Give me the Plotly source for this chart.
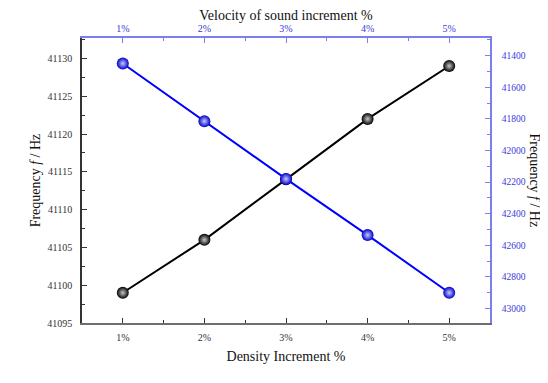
import plotly.graph_objects as go

x_pct = [1, 2, 3, 4, 5]
x_labels = ["1%", "2%", "3%", "4%", "5%"]
density_freq = [41099, 41106, 41114, 41122, 41129]
velocity_freq = [41450, 41815, 42180, 42535, 42900]

left_ticks = [41095, 41100, 41105, 41110, 41115, 41120, 41125, 41130]
right_ticks = [41400, 41600, 41800, 42000, 42200, 42400, 42600, 42800, 43000]

FONT = "Liberation Serif"
BLUE_AX = "#7d7df0"
BLUE_TXT = "#3a3ad8"
GRAY_AX = "#6e6e6e"

fig = go.Figure()
fig.add_trace(go.Scatter(
    x=x_pct, y=density_freq, mode="lines+markers",
    line=dict(color="black", width=2),
    marker=dict(size=12, color="#000000", line=dict(width=0),
                gradient=dict(type="radial", color="#c8c8c8")),
    xaxis="x", yaxis="y", showlegend=False))
fig.add_trace(go.Scatter(
    x=x_pct, y=velocity_freq, mode="lines+markers",
    line=dict(color="#0000ff", width=2),
    marker=dict(size=12, color="#0000c8", line=dict(width=0),
                gradient=dict(type="radial", color="#c8c8ff")),
    xaxis="x2", yaxis="y2", showlegend=False))

common = dict(showgrid=False, zeroline=False, showline=True, linewidth=1.5,
              ticks="inside", ticklen=5, tickwidth=1, automargin=False)

fig.update_layout(
    width=540, height=375,
    margin=dict(l=74, r=58, t=30, b=60),
    paper_bgcolor="white", plot_bgcolor="white",
    font=dict(family=FONT, size=10, color="#333333"),
    xaxis=dict(range=[0.5, 5.5], tickvals=x_pct, ticktext=x_labels,
               linecolor=GRAY_AX, tickcolor="#333333",
               minor=dict(ticks="inside", ticklen=3, dtick=0.5, tick0=0.5, tickcolor="#333333"),
               tickfont=dict(family=FONT, size=10, color="#333333"),
               ticklabelstandoff=4,
               title=dict(text="Density Increment %", font=dict(family=FONT, size=14, color="#111111"), standoff=9),
               **common),
    xaxis2=dict(range=[0.5, 5.5], tickvals=x_pct, ticktext=x_labels, overlaying="x", side="top",
                linecolor=BLUE_AX, tickcolor=BLUE_AX,
                minor=dict(ticks="inside", ticklen=3, dtick=0.5, tick0=0.5, tickcolor=BLUE_AX),
                tickfont=dict(family=FONT, size=10, color=BLUE_TXT),
                ticklabelstandoff=0,
                title=dict(text="Velocity of sound increment %", font=dict(family=FONT, size=14, color="#111111"), standoff=3),
                **common),
    yaxis=dict(range=[41095, 41132.7], tickvals=left_ticks, ticktext=[str(v) for v in left_ticks],
               linecolor="#333333", tickcolor="#333333",
               minor=dict(ticks="inside", ticklen=3, dtick=2.5, tick0=41095, tickcolor="#333333"),
               tickfont=dict(family=FONT, size=10, color="#333333"),
               ticklabelstandoff=6,
               title=dict(text="Frequency <i>f</i> / Hz", font=dict(family=FONT, size=14, color="#111111"), standoff=3),
               **common),
    yaxis2=dict(range=[43091, 41289], tickvals=right_ticks, ticktext=[str(v) for v in right_ticks],
                overlaying="y", side="right",
                linecolor=BLUE_AX, tickcolor=BLUE_AX,
                minor=dict(ticks="inside", ticklen=3, dtick=100, tick0=41400, tickcolor=BLUE_AX),
                tickfont=dict(family=FONT, size=9.5, color=BLUE_TXT),
                ticklabelstandoff=8,
                **common),
    annotations=[dict(text="Frequency <i>f</i> / Hz", textangle=90, showarrow=False,
                      xref="paper", yref="paper", x=1, y=0.5, xanchor="center", yanchor="middle",
                      xshift=44, font=dict(family=FONT, size=14, color="#111111"))],
)

fig.write_html("out.html")
